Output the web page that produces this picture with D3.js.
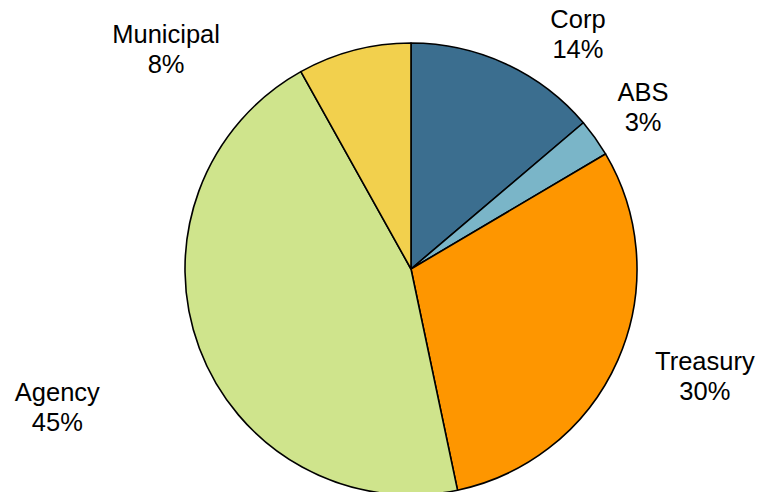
<!DOCTYPE html>
<html>
<head>
<meta charset="utf-8">
<script src="https://cdn.jsdelivr.net/npm/d3@7"></script>
<style>
  html, body { margin: 0; padding: 0; background: #fff; }
  svg { display: block; }
</style>
</head>
<body>
<div id="chart-area"></div>
<script>
const canvas_width = 761;
const canvas_height = 492;

// data (shares, labels show the rounded value)
const categories = ['Corp', 'ABS', 'Treasury', 'Agency', 'Municipal'];
const shares = [13.8, 2.7, 30.2, 45.2, 8.1];
const colors = ['#3b6e8f', '#7ab5c8', '#fe9600', '#cfe48c', '#f2d04d'];

// layout
const cx = 411, cy = 269, radius = 226;
const font_size = 25.5;
const line_gap = 30;
// offsets of each label from the slice's outer mid point
const label_nudge = [[72, -36], [48, -37], [87, 10], [-142, 53], [-188, -7]];

const data = categories.map((c, i) => ({ name: c, value: shares[i], color: colors[i], nudge: label_nudge[i] }));
const total = d3.sum(shares);

let canvas = d3.select('#chart-area').append('svg')
    .attr('width', canvas_width)
    .attr('height', canvas_height);
let group = canvas.append('g').attr('transform', `translate(${cx}, ${cy})`);

let pie = d3.pie().sort(null).value((d) => d.value);
let arc = d3.arc().innerRadius(0).outerRadius(radius);
let outer = d3.arc().innerRadius(radius).outerRadius(radius);

let arcs = pie(data);

group.selectAll('path').data(arcs).enter().append('path')
    .attr('d', arc)
    .attr('fill', (d) => d.data.color)
    .attr('stroke', '#000')
    .attr('stroke-width', 1.6)
    .attr('stroke-linejoin', 'round');

let labels = group.selectAll('text.label').data(arcs).enter().append('text')
    .attr('class', 'label')
    .attr('font-family', 'Liberation Sans, Arial, sans-serif')
    .attr('font-size', font_size + 'px')
    .attr('fill', '#000')
    .attr('text-anchor', 'middle')
    .attr('transform', (d) => {
        let p = outer.centroid(d);
        return `translate(${p[0] + d.data.nudge[0]}, ${p[1] + d.data.nudge[1]})`;
    });

labels.append('tspan').attr('x', 0).attr('y', 0).text((d) => d.data.name);
labels.append('tspan').attr('x', 0).attr('y', line_gap)
    .text((d) => Math.round(d.data.value / total * 100) + '%');
</script>
</body>
</html>
